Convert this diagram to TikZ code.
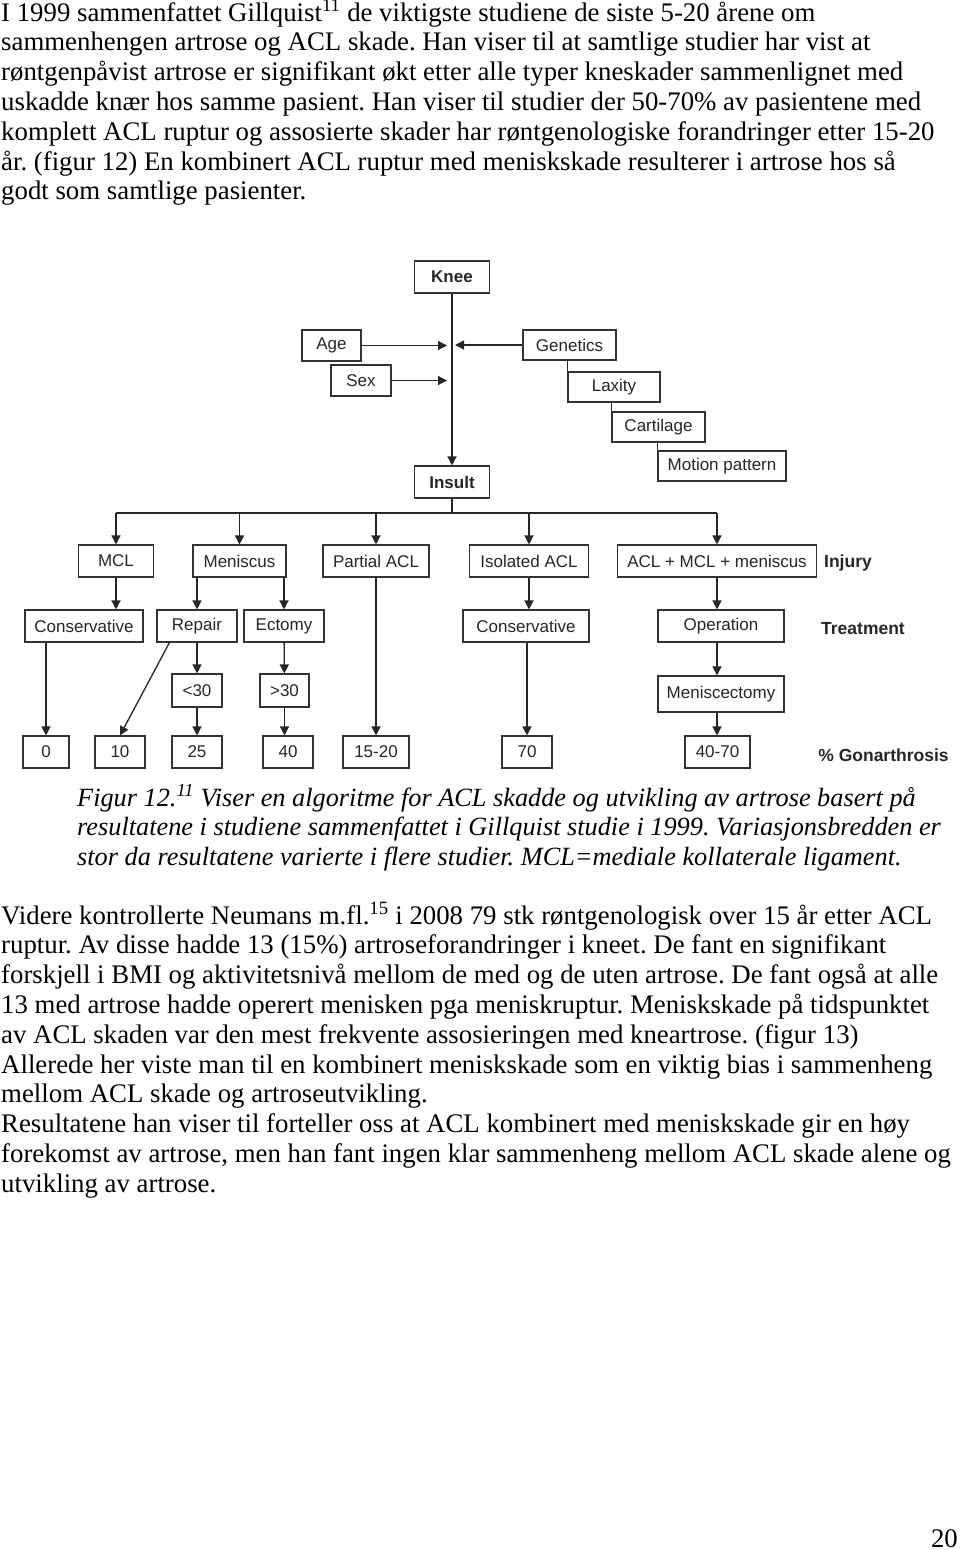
\documentclass[tikz,border=0pt]{standalone}
\usepackage{fontspec}
\setmainfont{Liberation Serif}
\setsansfont{Liberation Sans}
\usepackage{tikz}
\usetikzlibrary{arrows.meta,positioning,calc}
\frenchspacing

\begin{document}
\begin{tikzpicture}[x=1pt,y=-1pt,
  box/.style={draw=black!80,fill=white,line width=1.1pt,inner sep=0pt,minimum height=32pt,font=\sffamily\fontsize{17}{20}\selectfont,text=black!85},
  lbl/.style={font=\sffamily\bfseries\fontsize{17.5}{20}\selectfont,text=black!85},
  arr/.style={draw=black!85,line width=1.3pt,-{Triangle[length=9pt,width=9pt]}},
  ln/.style={draw=black!85,line width=1.3pt},
  body/.style={anchor=base west,inner sep=0pt,align=left,font=\fontsize{26.8}{29.8}\selectfont}]
\useasboundingbox (0,0) rectangle (960,1550);

% text above the figure (anchored at the last line)
\node[body] (para1) at (1,199.8) {I 1999 sammenfattet Gillquist\textsuperscript{11} de viktigste studiene de siste 5-20 årene om\\
sammenhengen artrose og ACL skade. Han viser til at samtlige studier har vist at\\
røntgenpåvist artrose er signifikant økt etter alle typer kneskader sammenlignet med\\
uskadde knær hos samme pasient. Han viser til studier der 50-70\% av pasientene med\\
komplett ACL ruptur og assosierte skader har røntgenologiske forandringer etter 15-20\\
år. (figur 12) En kombinert ACL ruptur med meniskskade resulterer i artrose hos så\\
godt som samtlige pasienter.};

% risk factors
\node[box,minimum width=75pt] (knee) at (452,277) {\bfseries Knee};
\node[box,minimum width=59pt,minimum height=31pt] (age) at (331.5,345.5) {Age};
\node[box,minimum width=60pt,minimum height=31pt] (sex) at (361,380.5) {Sex};
\node[box,minimum width=93pt,minimum height=30pt] (gen) at (569.5,345) {Genetics};
\node[box,minimum width=92pt,minimum height=30pt] (lax) at (614,387) {Laxity};
\node[box,minimum width=93pt,minimum height=30pt] (cart) at (658.5,427) {Cartilage};
\node[box,minimum width=128pt,minimum height=30pt] (motion) at (722,466) {Motion pattern};
\node[box,minimum width=75pt] (insult) at (452,482) {\bfseries Insult};

\draw[arr] (knee) -- (insult);
\draw[arr,shorten >=5pt] (age) -- (age -| knee);
\draw[arr,shorten >=5pt] (sex) -- (sex -| knee);
\draw[arr,shorten >=3pt] (gen) -- (gen -| knee);
\draw[ln] (lax.north west) -- (lax.north west |- gen.south);
\draw[ln] (cart.north west) -- (cart.north west |- lax.south);
\draw[ln] (motion.north west) -- (motion.north west |- cart.south);

% injury
\node[box,minimum width=75pt] (mcl) at (116,561) {MCL};
\node[box,minimum width=93pt] (men) at (239.5,561) {Meniscus};
\node[box,minimum width=106pt] (pacl) at (376,561) {Partial ACL};
\node[box,minimum width=119pt] (iso) at (529,561) {Isolated ACL};
\node[box,minimum width=199pt] (big) at (717,561) {ACL + MCL + meniscus};
\node[lbl] (injury) at (848,563) {Injury};

\coordinate (bus) at (452,513);
\draw[ln] (insult) -- (bus);
\draw[ln] (mcl.north |- bus) -- (big.north |- bus);
\foreach \n in {mcl,men,pacl,iso,big}
  \draw[arr] (\n.north |- bus) -- (\n.north);

% treatment
\node[box,minimum width=118pt] (consl) at (84,626) {Conservative};
\node[box,minimum width=80pt] (rep) at (197,626) {Repair};
\node[box,minimum width=80pt] (ect) at (284,626) {Ectomy};
\node[box,minimum width=126pt] (consr) at (526,626) {Conservative};
\node[box,minimum width=126pt] (op) at (721,626) {Operation};
\node[lbl] (treat) at (863,629) {Treatment};

\node[box,minimum width=50pt,minimum height=33pt] (lt) at (197,690.5) {<30};
\node[box,minimum width=49pt,minimum height=33pt] (gt) at (284.5,690.5) {>30};
\node[box,minimum width=126pt,minimum height=36pt] (mct) at (721,694) {Meniscectomy};

% outcome
\node[box,minimum width=46pt] (zero) at (46,752) {0};
\node[box,minimum width=50pt] (ten) at (120,752) {10};
\node[box,minimum width=50pt] (tf) at (197,752) {25};
\node[box,minimum width=50pt] (forty) at (288,752) {40};
\node[box,minimum width=66pt] (ftw) at (376,752) {15-20};
\node[box,minimum width=50pt] (sev) at (527,752) {70};
\node[box,minimum width=65pt] (fsev) at (717.5,752) {40-70};
\node[lbl] (gon) at (883.5,755) {\% Gonarthrosis};

\draw[arr] (mcl.south) -- (mcl.south |- consl.north);
\draw[arr] (zero |- consl.south) -- (zero.north);
\draw[arr] (rep |- men.south) -- (rep.north);
\draw[arr] (ect |- men.south) -- (ect.north);
\draw[arr] ([xshift=13pt]rep.south west) -- (ten.north);
\draw[arr] (rep) -- (lt);
\draw[arr] (lt) -- (tf);
\draw[arr] (ect) -- (gt);
\draw[arr] (gt.south) -- (gt.south |- forty.north);
\draw[arr] (pacl) -- (ftw);
\draw[arr] (iso.south) -- (iso.south |- consr.north);
\draw[arr] (sev |- consr.south) -- (sev.north);
\draw[arr] (big.south) -- (big.south |- op.north);
\draw[arr] (big.south |- op.south) -- (big.south |- mct.north);
\draw[arr] (big.south |- mct.south) -- (big.south |- fsev.north);

% caption
\node[body,font=\itshape\fontsize{26.3}{29.6}\selectfont] (caption) at (77,865.2) {Figur 12.\textsuperscript{11} Viser en algoritme for ACL skadde og utvikling av artrose basert på\\
resultatene i studiene sammenfattet i Gillquist studie i 1999. Variasjonsbredden er\\
stor da resultatene varierte i flere studier. MCL=mediale kollaterale ligament.};

% text below the figure
\node[body] (para2) at (1,1192.2) {Videre kontrollerte Neumans m.fl.\textsuperscript{15} i 2008 79 stk røntgenologisk over 15 år etter ACL\\
ruptur. Av disse hadde 13 (15\%) artroseforandringer i kneet. De fant en signifikant\\
forskjell i BMI og aktivitetsnivå mellom de med og de uten artrose. De fant også at alle\\
13 med artrose hadde operert menisken pga meniskruptur. Meniskskade på tidspunktet\\
av ACL skaden var den mest frekvente assosieringen med kneartrose. (figur 13)\\
Allerede her viste man til en kombinert meniskskade som en viktig bias i sammenheng\\
mellom ACL skade og artroseutvikling.\\
Resultatene han viser til forteller oss at ACL kombinert med meniskskade gir en høy\\
forekomst av artrose, men han fant ingen klar sammenheng mellom ACL skade alene og\\
utvikling av artrose.};

\node[body,anchor=base east] (page) at (958,1547) {20};
\end{tikzpicture}
\end{document}
